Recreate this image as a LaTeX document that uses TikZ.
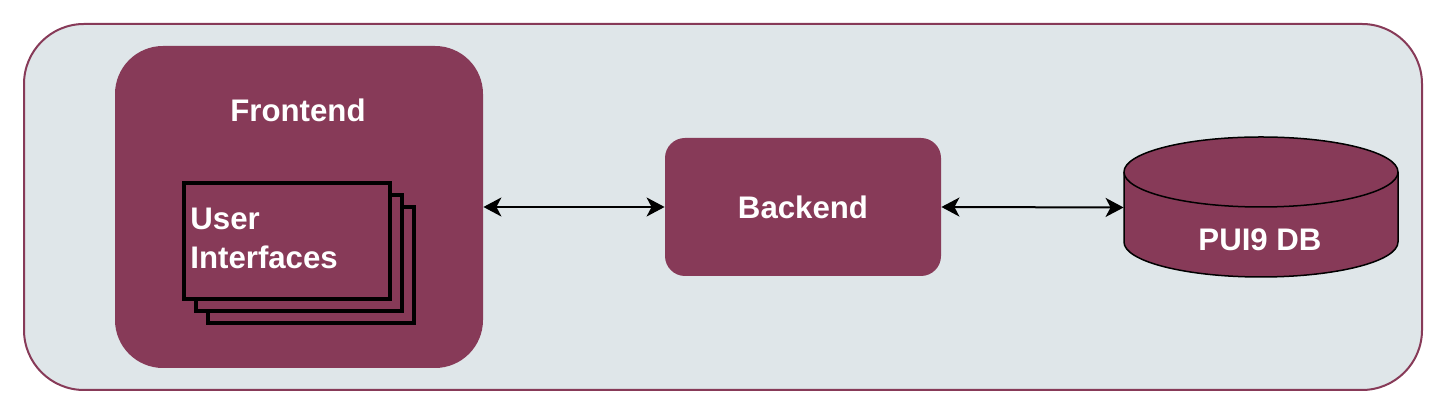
\documentclass[tikz,border=0pt]{standalone}
\usepackage{fontspec}
\setmainfont{Liberation Sans}
\usetikzlibrary{arrows.meta}
\definecolor{vino}{RGB}{135,58,88}
\definecolor{fondo}{RGB}{223,230,233}
\tikzset{
  letra/.style={text=white,font=\bfseries\fontsize{15.6}{19.5}\selectfont},
  caja/.style={fill=vino,draw=none},
  pantalla/.style={fill=vino,draw=black,line width=2pt,minimum width=103pt,minimum height=58pt},
  flecha/.style={{Stealth[length=9pt,width=9.5pt,inset=2.5pt]}-{Stealth[length=9pt,width=9.5pt,inset=2.5pt]},line width=1pt}
}
\begin{document}
\begin{tikzpicture}[x=.5pt,y=-.5pt]
\useasboundingbox (0,0) rectangle (1446,415);
%
% marco general
\draw[vino,fill=fondo,line width=1pt,rounded corners=30pt] (24,24) rectangle (1422,390);
%
% frontend
\node[caja,rounded corners=24pt,minimum width=184pt,minimum height=161pt] (frontend) at (299,207) {};
\node[letra] (ftitulo) at (298,110) {Frontend};
\node[pantalla] (ui3) at (311,265) {};
\node[pantalla] (ui2) at (299,253) {};
\node[pantalla] (ui) at (287,241) {};
\node[letra,anchor=west,align=left,inner sep=0pt] (uitexto) at (190,238) {User\\Interfaces};
%
% backend
\node[caja,letra,rounded corners=10pt,minimum width=138pt,minimum height=69pt] (backend) at (803,207) {Backend};
%
% base de datos (cilindro)
\node[inner sep=0pt,minimum width=137pt,minimum height=69.5pt] (db) at (1261,207.5) {};
\draw[fill=vino,line width=.75pt] (1124,172) -- (1124,242)
  arc[start angle=180,end angle=360,x radius=68.5pt,y radius=17.5pt] -- (1398,172)
  arc[start angle=0,end angle=180,x radius=68.5pt,y radius=17.5pt] -- cycle;
\draw[line width=.75pt] (1124,172) arc[start angle=180,end angle=360,x radius=68.5pt,y radius=17.5pt];
\node[letra] (dbtexto) at (1260,240) {PUI9 DB};
%
\draw[flecha] (frontend.east) -- (backend.west);
\draw[flecha] (backend.east) -- (db.west);
\end{tikzpicture}
\end{document}
